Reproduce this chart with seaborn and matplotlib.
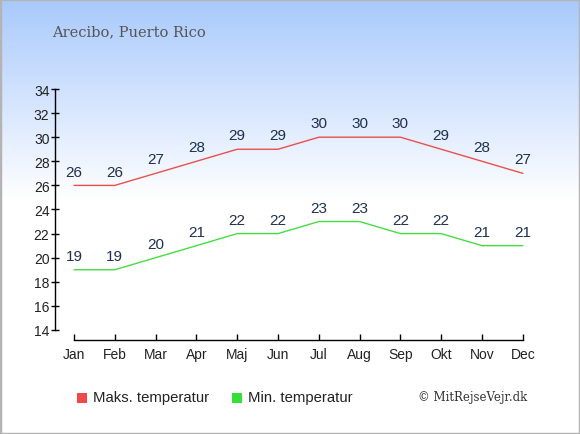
import numpy as np
import pandas as pd
import matplotlib
matplotlib.use("Agg")
import matplotlib.pyplot as plt
import seaborn as sns
from matplotlib.patches import Rectangle

months = ["Jan", "Feb", "Mar", "Apr", "Maj", "Jun", "Jul", "Aug", "Sep", "Okt", "Nov", "Dec"]
max_temp = [26, 26, 27, 28, 29, 29, 30, 30, 30, 29, 28, 27]
min_temp = [19, 19, 20, 21, 22, 22, 23, 23, 22, 22, 21, 21]
y_ticks = [14, 16, 18, 20, 22, 24, 26, 28, 30, 32, 34]

df = pd.DataFrame({"idx": range(len(months)), "month": months,
                   "max": max_temp, "min": min_temp})

sns.set_style("white")
plt.rcParams["font.family"] = ["Liberation Sans", "DejaVu Sans"]

fig = plt.figure(figsize=(5.8, 4.35), dpi=100)

# baggrund med gradient
bg = fig.add_axes([0, 0, 1, 1], zorder=0)
top = np.array([0.66, 0.79, 0.99])
grad = np.linspace(0, 1, 256)[:, None]
w = np.clip(grad / 0.46, 0, 1)[:, :, None]
img = top * (1 - w) + np.array([1.0, 1.0, 1.0]) * w
bg.imshow(img, aspect="auto", extent=[0, 1, 0, 1], origin="upper")
bg.add_patch(Rectangle((0, 0), 1, 1, transform=bg.transAxes, fill=False,
                       edgecolor="#b4b4b4", linewidth=2.5))
bg.set_axis_off()

ax = fig.add_axes([55 / 580, 1 - 341 / 435, (531 - 55) / 580, (341 - 90) / 435], zorder=1)
ax.patch.set_alpha(0)

red = "#e85050"
green = "#44dd44"
sns.lineplot(data=df, x="idx", y="max", ax=ax, color=red, linewidth=1)
sns.lineplot(data=df, x="idx", y="min", ax=ax, color=green, linewidth=1)

for i in range(len(months)):
    ax.annotate(str(max_temp[i]), (i, max_temp[i]), xytext=(0, 10), textcoords="offset points",
                ha="center", va="center", fontsize=11, color="#1f3050")
    ax.annotate(str(min_temp[i]), (i, min_temp[i]), xytext=(0, 10), textcoords="offset points",
                ha="center", va="center", fontsize=11, color="#1f3050")

ax.set_xlim(-0.466, 11.2)
ax.set_ylim(13.17, 34)
ax.set_xticks(range(len(months)))
ax.set_xticklabels(months)
ax.set_yticks(y_ticks)
ax.set_xlabel("")
ax.set_ylabel("")

for s in ["top", "right"]:
    ax.spines[s].set_visible(False)
ax.spines["left"].set_bounds(14, 34)
ax.spines["bottom"].set_bounds(0, 11)
for s in ["left", "bottom"]:
    ax.spines[s].set_color("black")
    ax.spines[s].set_linewidth(1)

ax.tick_params(axis="y", left=True, direction="inout", length=6, width=1, labelsize=10,
               pad=1, color="black", labelcolor="#222222")
ax.tick_params(axis="x", bottom=True, direction="in", length=4, width=1, labelsize=10,
               pad=5, color="black", labelcolor="#222222")

fig.text(52 / 580, 1 - 32 / 435, "Arecibo, Puerto Rico", family="DejaVu Serif",
         fontsize=10.5, color="#555555", ha="left", va="center")

# legende
fig.patches.append(Rectangle((77 / 580, 1 - 404 / 435), 10 / 580, 10 / 435,
                             transform=fig.transFigure, facecolor="#f04848", edgecolor="none"))
fig.text(93 / 580, 1 - 398 / 435, "Maks. temperatur", fontsize=10.7, color="#222222",
         ha="left", va="center")
fig.patches.append(Rectangle((232 / 580, 1 - 404 / 435), 10 / 580, 10 / 435,
                             transform=fig.transFigure, facecolor="#33e033", edgecolor="none"))
fig.text(248 / 580, 1 - 398 / 435, "Min. temperatur", fontsize=10.7, color="#222222",
         ha="left", va="center")
fig.text(527 / 580, 1 - 398 / 435, "© MitRejseVejr.dk", family="DejaVu Serif",
         fontsize=8.5, color="#333333", ha="right", va="center")

fig.savefig("out.png", dpi=100)
